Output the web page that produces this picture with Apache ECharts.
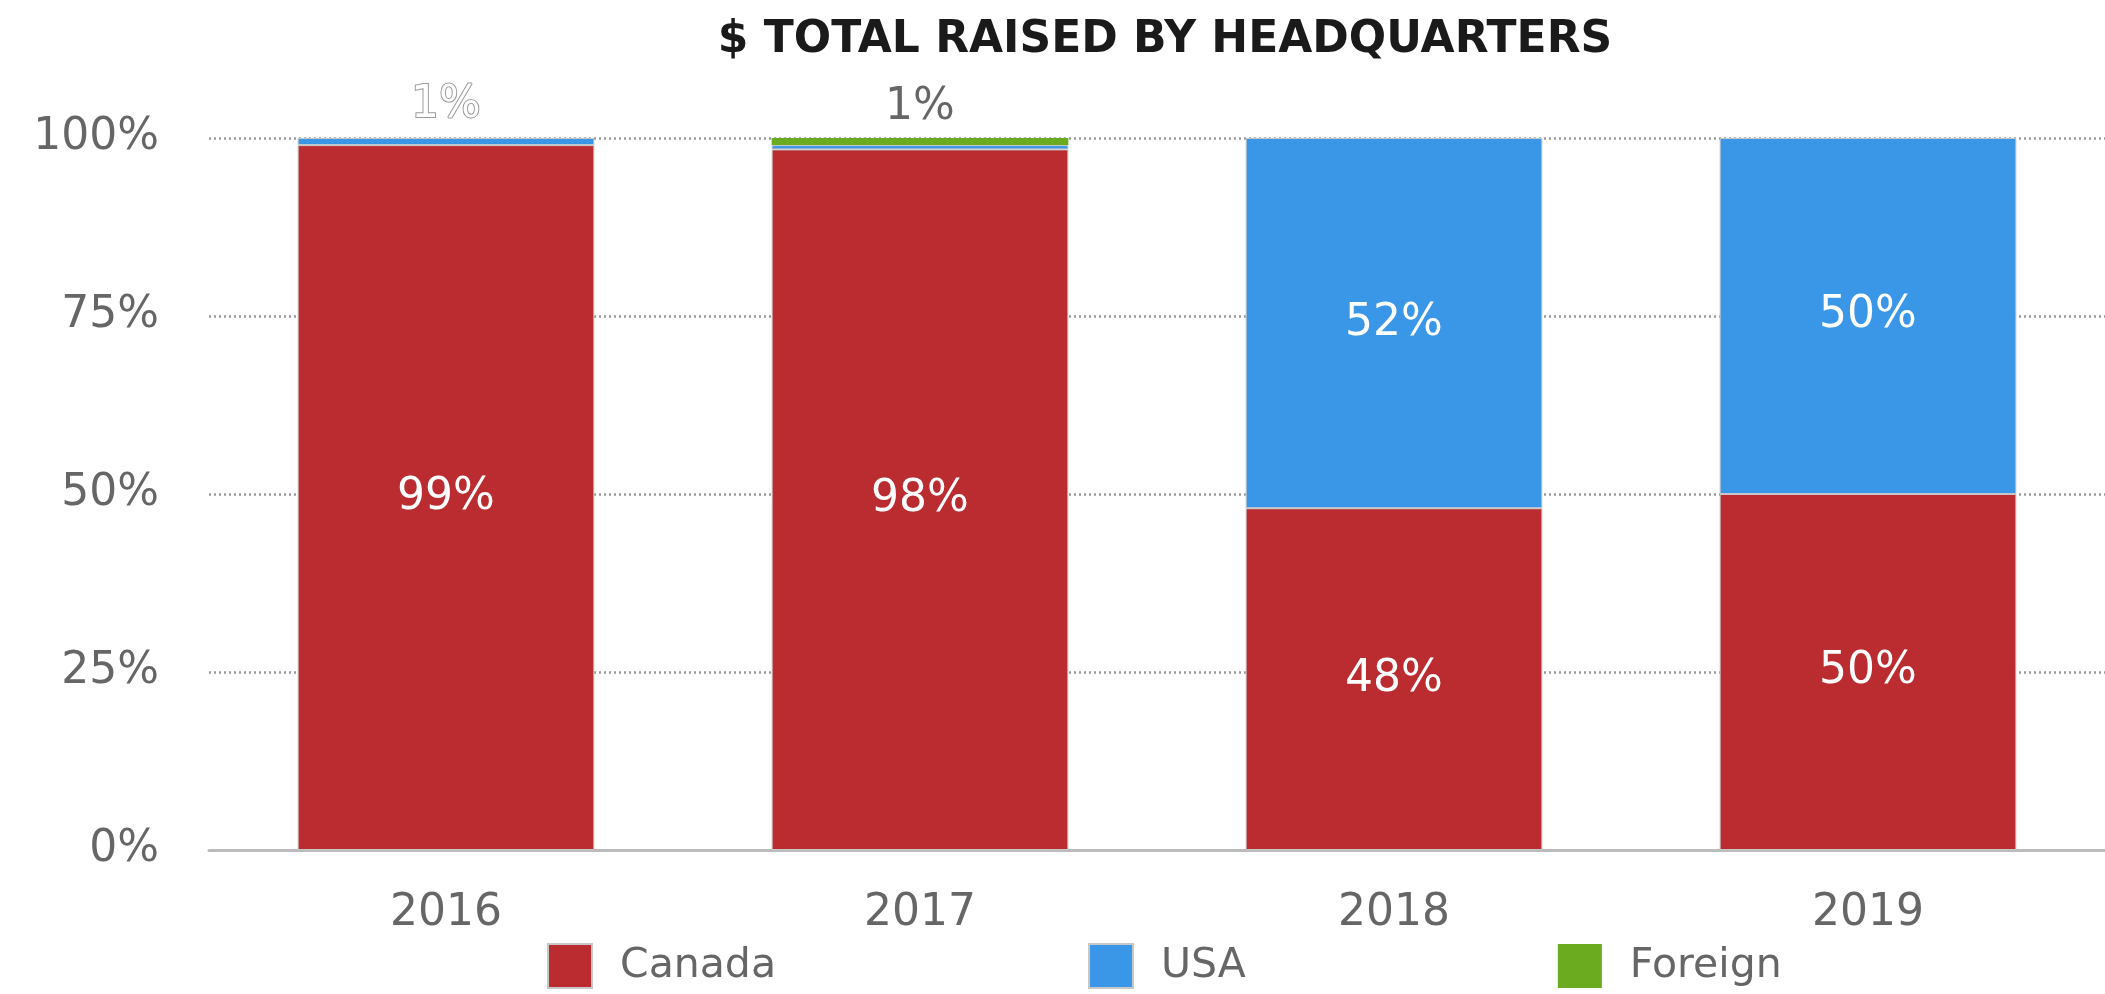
<!DOCTYPE html>
<html>
<head>
<meta charset="utf-8">
<script src="https://cdn.jsdelivr.net/npm/echarts@6/dist/echarts.min.js"></script>
<style>
  html,body{margin:0;padding:0;background:#fff;}
  #main{width:2105px;height:994px;}
</style>
</head>
<body>
<div id="main"></div>
<script>
// data (percent of total raised)
var years = ["2016", "2017", "2018", "2019"]
var canada = [99, 98.4, 48, 50]
var usa = [1, 0.6, 52, 50]
var foreign = [0, 1, 0, 0]

var FONT = "DejaVu Sans"
var chart = echarts.init(document.getElementById("main"))

function pct(p){ return Math.round(p.value) + "%" }

// the two tiny slices get their label above the bar
var usaData = usa.map(function(v, i){
  if (i === 0) {
    return {value: v, label: {show: true, position: "top", distance: 10, color: "#fff",
      textBorderColor: "#999", textBorderWidth: 2}}
  }
  return v
})
var foreignData = foreign.map(function(v, i){
  if (i === 1) {
    return {value: v, label: {show: true, position: "top", distance: 8, color: "#666"}}
  }
  return v
})

var inside = {show: true, position: "inside", color: "#fff", fontFamily: FONT, fontSize: 44, formatter: pct}

chart.setOption({
  animation: false,
  title: {
    text: "$ TOTAL RAISED BY HEADQUARTERS",
    left: 1160, top: 14, textAlign: "center",
    textStyle: {fontFamily: FONT, fontWeight: "bold", fontSize: 44, color: "#1a1a1a"}
  },
  legend: {
    left: 542, top: 938,
    itemWidth: 44, itemHeight: 44, itemGap: 312,
    icon: "rect",
    textStyle: {fontFamily: FONT, fontSize: 41, color: "#666", padding: [0, 0, 0, 23]},
    data: ["Canada", "USA", "Foreign"]
  },
  grid: {left: 209, right: -4, top: 138, bottom: 144},
  xAxis: {
    type: "category",
    data: years,
    axisTick: {show: false},
    axisLine: {lineStyle: {color: "#bbb", width: 3}},
    axisLabel: {fontFamily: FONT, fontSize: 44, color: "#666", margin: 42}
  },
  yAxis: {
    type: "value",
    min: 0, max: 100, interval: 25,
    axisLine: {show: false},
    axisTick: {show: false},
    axisLabel: {fontFamily: FONT, fontSize: 44, color: "#666", margin: 50, formatter: "{value}%"},
    splitLine: {lineStyle: {color: "#999", type: [2, 3], width: 2.5}}
  },
  series: [
    {name: "Canada", type: "bar", stack: "hq", data: canada, barWidth: "62.6%",
      itemStyle: {color: "#BA2C30", borderColor: "#c8c8c8", borderWidth: 1},
      label: inside},
    {name: "USA", type: "bar", stack: "hq", data: usaData,
      itemStyle: {color: "#3A97E8", borderColor: "#c8c8c8", borderWidth: 1},
      label: {show: true, position: "inside", color: "#fff", fontFamily: FONT, fontSize: 44,
        formatter: function(p){ return p.value >= 5 || p.dataIndex === 0 ? pct(p) : "" }}},
    {name: "Foreign", type: "bar", stack: "hq", data: foreignData,
      itemStyle: {color: "#6AAB1F", borderColor: "#c8c8c8", borderWidth: 0},
      label: {show: false, fontFamily: FONT, fontSize: 44, formatter: pct}}
  ]
})
</script>
</body>
</html>
